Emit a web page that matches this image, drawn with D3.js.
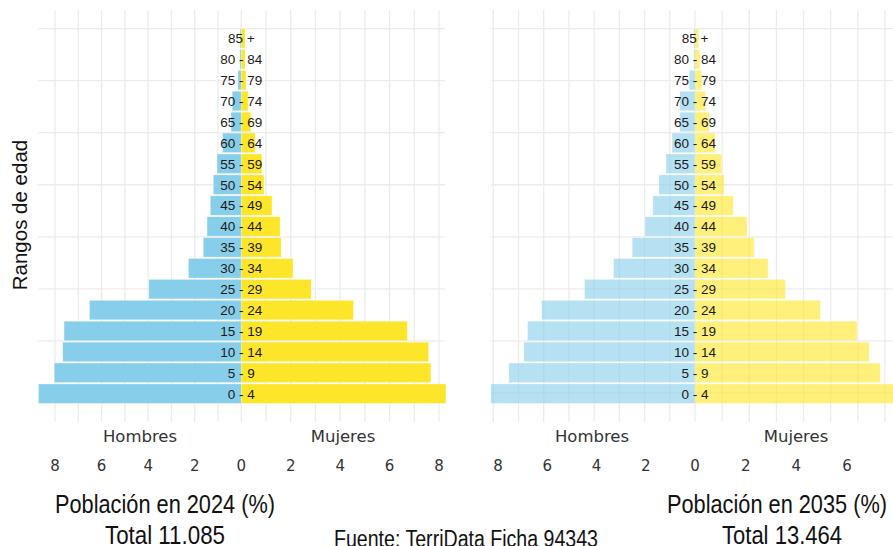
<!DOCTYPE html>
<html>
<head>
<meta charset="utf-8">
<script src="https://cdn.jsdelivr.net/npm/d3@7"></script>
<style>
  body { margin: 0; background: #fff; }
  svg { display: block; }
</style>
</head>
<body>
<svg id="root"></svg>
<script>
const width = 893, height = 546;

// age groups, from the bottom of the pyramid to the top
const ageGroups = ["0 - 4", "5 - 9", "10 - 14", "15 - 19", "20 - 24", "25 - 29", "30 - 34", "35 - 39",
  "40 - 44", "45 - 49", "50 - 54", "55 - 59", "60 - 64", "65 - 69", "70 - 74", "75 - 79", "80 - 84", "85 +"];

// % of population
const hombres2024 = [8.71, 8.03, 7.67, 7.61, 6.52, 3.97, 2.27, 1.63, 1.47, 1.33, 1.20, 1.04, 0.80, 0.44, 0.39, 0.14, 0.06, 0.05];
const mujeres2024 = [8.28, 7.67, 7.58, 6.72, 4.54, 2.83, 2.09, 1.61, 1.57, 1.24, 0.92, 0.83, 0.56, 0.38, 0.28, 0.19, 0.15, 0.15];
const hombres2035 = [8.10, 7.38, 6.79, 6.64, 6.08, 4.38, 3.23, 2.49, 1.98, 1.67, 1.43, 1.15, 0.91, 0.60, 0.60, 0.23, 0.05, 0.05];
const mujeres2035 = [7.40, 6.83, 6.42, 5.97, 4.62, 3.33, 2.69, 2.18, 1.92, 1.41, 1.07, 0.98, 0.74, 0.52, 0.39, 0.25, 0.18, 0.14];

// tick labels under each side
const ticksHombres = [8, 6, 4, 2, 0];
const ticksMujeres2024 = [2, 4, 6, 8];
const ticksMujeres2035 = [2, 4, 6];

const titles = ["Población en 2024 (%)", "Población en 2035 (%)"];
const totals = ["Total 11.085", "Total 13.464"];
const fuente = "Fuente: TerriData Ficha 94343";

const svg = d3.select("#root").attr("width", width).attr("height", height);

// vertical position: continuous index for the grid, band for the bars
const yIdx = d3.scaleLinear([0, 17], [393, 39]);
const yBand = d3.scaleBand(ageGroups, [yIdx(-0.5), yIdx(17.5)]).paddingInner(0.07);

// no narrow font installed -> squeeze Liberation Sans with textLength
const capFont = "'Liberation Sans', Arial, sans-serif";

function drawPanel(p) {
  const g = svg.append("g");

  // grid
  const hLines = d3.range(0, 17.6, 2.5);
  g.selectAll(".hgrid").data(hLines).join("line")
    .attr("x1", p.x0).attr("x2", p.x1)
    .attr("y1", d => yIdx(d)).attr("y2", d => yIdx(d))
    .attr("stroke", "#ececec").attr("stroke-width", 1.3);

  const vLines = d3.range(1, p.gridM + 1).map(v => p.xM(v))
    .concat(d3.range(0, p.gridF + 1).map(v => p.xF(v)));
  g.selectAll(".vgrid").data(vLines).join("line")
    .attr("x1", d => d).attr("x2", d => d)
    .attr("y1", p.y0).attr("y2", p.y1)
    .attr("stroke", "#ececec").attr("stroke-width", 1.3);

  // bars
  g.selectAll(".m").data(p.men).join("rect")
    .attr("x", d => p.xM(d))
    .attr("width", d => p.xM(0) - p.xM(d))
    .attr("y", (d, i) => yBand(ageGroups[i]))
    .attr("height", yBand.bandwidth())
    .attr("fill", "#87ceeb").attr("fill-opacity", p.alpha)
    .attr("stroke", "#ffffff").attr("stroke-opacity", 0.35).attr("stroke-width", 0.8);

  g.selectAll(".f").data(p.women).join("rect")
    .attr("x", p.xF(0))
    .attr("width", d => p.xF(d) - p.xF(0))
    .attr("y", (d, i) => yBand(ageGroups[i]))
    .attr("height", yBand.bandwidth())
    .attr("fill", "#fde62a").attr("fill-opacity", p.alpha)
    .attr("stroke", "#ffffff").attr("stroke-opacity", 0.35).attr("stroke-width", 0.8);

  // age labels on the zero line
  g.selectAll(".age").data(ageGroups).join("text")
    .attr("x", p.xM(0))
    .attr("y", d => yBand(d) + yBand.bandwidth() / 2)
    .attr("dy", "0.36em")
    .attr("text-anchor", "middle")
    .attr("font-family", capFont)
    .attr("font-size", 13.5)
    .attr("fill", "#1a1a1a")
    .text(d => d);

  // axis titles
  g.append("text").attr("x", p.hombresX).attr("y", 442)
    .attr("text-anchor", "middle").attr("font-family", "'DejaVu Sans', Verdana, sans-serif")
    .attr("font-size", 16.5).attr("fill", "#333").text("Hombres");
  g.append("text").attr("x", p.mujeresX).attr("y", 442)
    .attr("text-anchor", "middle").attr("font-family", "'DejaVu Sans', Verdana, sans-serif")
    .attr("font-size", 16.5).attr("fill", "#333").text("Mujeres");

  // tick labels
  g.selectAll(".tm").data(ticksHombres).join("text")
    .attr("x", d => p.lblM(d)).attr("y", 471)
    .attr("text-anchor", "middle").attr("font-family", "'DejaVu Sans', Verdana, sans-serif")
    .attr("font-size", 15).attr("fill", "#333").text(d => d);
  g.selectAll(".tf").data(p.ticksF).join("text")
    .attr("x", d => p.lblF(d)).attr("y", 471)
    .attr("text-anchor", "middle").attr("font-family", "'DejaVu Sans', Verdana, sans-serif")
    .attr("font-size", 15).attr("fill", "#333").text(d => d);

  // caption
  g.append("text").attr("x", p.titleX - 110).attr("y", 513)
    .attr("font-family", capFont).attr("font-size", 25.5).attr("fill", "#111")
    .attr("textLength", 220).attr("lengthAdjust", "spacingAndGlyphs")
    .text(p.title);
  g.append("text").attr("x", p.totalX - 60).attr("y", 544)
    .attr("font-family", capFont).attr("font-size", 25.5).attr("fill", "#111")
    .attr("textLength", 120).attr("lengthAdjust", "spacingAndGlyphs")
    .text(p.total);
}

drawPanel({
  x0: 38, x1: 445, y0: 10, y1: 422,
  xM: d3.scaleLinear([0, 8], [241.3, 55]),
  xF: d3.scaleLinear([0, 8], [241.3, 439]),
  lblM: d3.scaleLinear([0, 8], [241.3, 55]),
  lblF: d3.scaleLinear([0, 8], [241.3, 439]),
  gridM: 8, gridF: 8,
  men: hombres2024, women: mujeres2024, alpha: 1,
  ticksF: ticksMujeres2024,
  hombresX: 140, mujeresX: 343,
  title: titles[0], total: totals[0], titleX: 165, totalX: 165
});

drawPanel({
  x0: 491, x1: 900, y0: 10, y1: 422,
  xM: d3.scaleLinear([0, 8], [695, 493.3]),
  xF: d3.scaleLinear([0, 7], [695, 885]),
  lblM: d3.scaleLinear([0, 8], [695, 498]),
  lblF: d3.scaleLinear([0, 6], [695, 847]),
  gridM: 8, gridF: 7,
  men: hombres2035, women: mujeres2035, alpha: 0.62,
  ticksF: ticksMujeres2035,
  hombresX: 592, mujeresX: 796,
  title: titles[1], total: totals[1], titleX: 777, totalX: 782
});

// y axis title
svg.append("text")
  .attr("transform", "translate(27,215) rotate(-90)")
  .attr("text-anchor", "middle")
  .attr("font-family", capFont)
  .attr("font-size", 20.5)
  .attr("fill", "#111")
  .text("Rangos de edad");

// source
svg.append("text")
  .attr("x", 466 - 132).attr("y", 547)
  .attr("font-family", capFont)
  .attr("font-size", 23)
  .attr("fill", "#111")
  .attr("textLength", 264).attr("lengthAdjust", "spacingAndGlyphs")
  .text(fuente);
</script>
</body>
</html>
